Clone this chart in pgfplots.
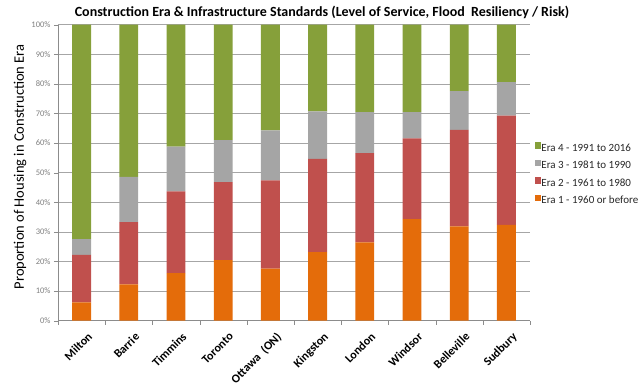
\documentclass[border=0pt]{standalone}
\usepackage{pgfplots}
\pgfplotsset{compat=1.18}
\usepackage{fontspec}
\setmainfont{Carlito}
\definecolor{eraA}{HTML}{E46C0A}
\definecolor{eraB}{HTML}{C0504D}
\definecolor{eraC}{HTML}{A5A5A5}
\definecolor{eraD}{HTML}{86A03A}
\definecolor{gridc}{HTML}{A6A6A6}
\definecolor{axc}{HTML}{8C8C8C}
\definecolor{tickc}{HTML}{7F7F7F}
\begin{document}
\begin{tikzpicture}[x=1pt,y=1pt]
\useasboundingbox (0,0) rectangle (640,384);
\node[font=\bfseries\fontsize{14}{16}\selectfont, anchor=center] at (322,372) {Construction Era \& Infrastructure Standards (Level of Service, Flood\ \ Resiliency / Risk)};
\begin{axis}[
  at={(58pt,63.3pt)}, anchor=south west,
  scale only axis, width=472pt, height=296pt,
  ybar stacked, bar width=0.4,
  xmin=-0.5, xmax=9.5, ymin=0, ymax=100,
  xtick={0,...,9},
  xticklabels={Milton,Barrie,Timmins,Toronto,Ottawa\ \ (ON),Kingston,London,Windsor,Belleville,Sudbury},
  x tick label style={rotate=45, anchor=north east, font=\bfseries\fontsize{12}{14}\selectfont, inner sep=0pt, yshift=-8.5pt, xshift=-1pt},
  major x tick style={draw=none},
  minor xtick={-0.5,0.5,...,9.5},
  minor x tick style={draw=axc},
  minor tick length=4pt,
  ytick={0,10,...,100},
  yticklabel={\pgfmathprintnumber{\tick}\%},
  y tick label style={font=\fontsize{8.5}{9}\selectfont, text=tickc},
  /pgf/number format/assume math mode=true,
  major tick length=4pt,
  tick align=outside,
  ymajorgrids, grid style={gridc, line width=0.6pt},
  axis x line*=bottom, axis y line*=left,
  axis line style={axc, line width=0.6pt},
  y axis line style={-}, x axis line style={-},
  ytick style={axc},
  ylabel={Proportion of Housing in Construction Era},
  ylabel style={font=\fontsize{14.5}{16}\selectfont, at={(-38pt,0.52)}, anchor=center, rotate=0},
  legend style={at={(1.01,0.496)}, anchor=west, draw=none, fill=none, font=\fontsize{11}{12}\selectfont, row sep=6.5pt, text=black!85, inner sep=0pt,
    nodes={inner sep=0pt, text height=7.5pt, text depth=2pt}},
  legend cell align=left,
  reverse legend,
  legend image code/.code={\fill[#1] (0pt,-0.2pt) rectangle (6.5pt,6.3pt);},
  clip=false,
]
\addplot[fill=eraA, draw=none] coordinates {(0,6.2) (1,12.3) (2,16.1) (3,20.5) (4,17.6) (5,23.2) (6,26.5) (7,34.3) (8,31.9) (9,32.4)};
\addplot[fill=eraB, draw=none] coordinates {(0,16.0) (1,21.0) (2,27.6) (3,26.3) (4,29.8) (5,31.5) (6,30.1) (7,27.3) (8,32.6) (9,36.9)};
\addplot[fill=eraC, draw=none] coordinates {(0,5.4) (1,15.3) (2,15.1) (3,14.2) (4,16.9) (5,16.0) (6,13.9) (7,8.9) (8,13.1) (9,11.3)};
\addplot[fill=eraD, draw=none] coordinates {(0,72.4) (1,51.4) (2,41.2) (3,39.0) (4,35.7) (5,29.3) (6,29.5) (7,29.5) (8,22.4) (9,19.4)};
\legend{Era 1 - 1960 or before, Era 2 - 1961 to 1980, Era 3 - 1981 to 1990, Era 4 - 1991 to 2016}
\end{axis}
\end{tikzpicture}
\end{document}
